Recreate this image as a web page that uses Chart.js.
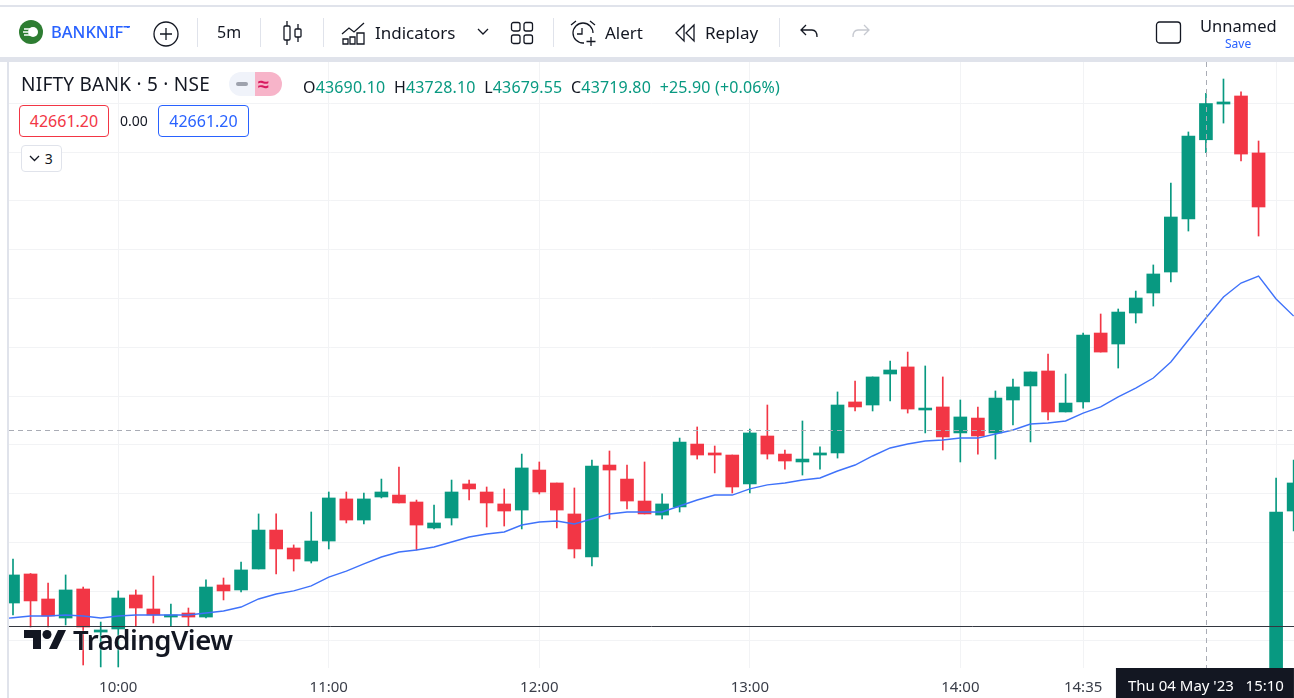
<!DOCTYPE html>
<html>
<head>
<meta charset="utf-8">
<title>NIFTY BANK</title>
<script src="https://cdn.jsdelivr.net/npm/chart.js@4/dist/chart.umd.min.js"></script>
<style>
  html, body { margin: 0; padding: 0; background: #fff; overflow: hidden; }
  body { width: 1294px; height: 698px; position: relative; font-family: "Noto Sans", sans-serif; color: #131722; }
  #chart { position: absolute; left: 0; top: 0; }
  .t { position: absolute; white-space: nowrap; line-height: 1; }
  .bar { position: absolute; background: #e0e3eb; }
  .sep { position: absolute; top: 18px; width: 1px; height: 29px; background: #e0e3eb; }
  .ic { position: absolute; fill: none; stroke: #131722; stroke-width: 1.3; }
  .g { color: #089981; }
  .box { position: absolute; box-sizing: border-box; border-radius: 4px; font-size: 16px; text-align: center; background: #fff; }
</style>
</head>
<body>
<canvas id="chart" width="1294" height="698"></canvas>

<div class="bar" style="left:0;top:5px;width:1294px;height:2px"></div>
<div class="bar" style="left:0;top:57px;width:1294px;height:5px"></div>
<div class="bar" style="left:7px;top:57px;width:2px;height:641px"></div>

<!-- top toolbar -->
<svg class="ic" style="left:19px;top:20px;stroke:none" width="24" height="24"><circle cx="12" cy="12" r="12" fill="#2e7d32"/><circle cx="14" cy="12" r="5" fill="#fff"/><path d="M5 9h6M4 12h5M5 15h6" stroke="#fff" stroke-width="1.5"/></svg>
<div class="t" style="left:51px;top:24px;font-size:16.500px;font-weight:500;color:#2962ff;width:79px;height:19px;overflow:hidden">BANKNIFTY</div>
<div class="bar" style="left:125px;top:28px;width:7px;height:16px;background:#fff"></div>
<svg class="ic" style="left:153px;top:21px" width="26" height="26"><circle cx="13" cy="13" r="12"/><path d="M13 7v12M7 13h12"/></svg>
<div class="sep" style="left:197px"></div>
<div class="t" style="left:217px;top:24px;font-size:16px">5m</div>
<div class="sep" style="left:260px"></div>
<svg class="ic" style="left:282px;top:20px" width="22" height="26"><rect x="2" y="6" width="6" height="14" rx="1"/><path d="M5 1v5M5 20v5"/><rect x="13" y="9" width="6" height="8" rx="1"/><path d="M16 4v5M16 17v5"/></svg>
<div class="sep" style="left:323px"></div>
<svg class="ic" style="left:341px;top:20px" width="26" height="26"><path d="M1 14l7-6 5 4 10-9"/><path d="M2 24v-5h5v5zM9 24v-7h5v7zM16 24v-11h7v11z"/></svg>
<div class="t" style="left:375px;top:24px;font-size:17px">Indicators</div>
<svg class="ic" style="left:477px;top:28px" width="12" height="8"><path d="M1 1l5 5 5-5"/></svg>
<svg class="ic" style="left:510px;top:21px" width="24" height="24"><rect x="1.5" y="1.5" width="8.5" height="8.5" rx="2"/><rect x="14" y="1.5" width="8.5" height="8.5" rx="2"/><rect x="1.5" y="14" width="8.5" height="8.5" rx="2"/><rect x="14" y="14" width="8.5" height="8.5" rx="2"/></svg>
<div class="sep" style="left:553px"></div>
<svg class="ic" style="left:570px;top:19px" width="28" height="28"><path d="M13 4a10 10 0 1 0 0 20h1"/><path d="M13 4a10 10 0 0 1 10 10"/><path d="M12 9v6h-5"/><path d="M1 6l5-4M20 2l5 4"/><path d="M21 18v9M16.5 22.5h9"/></svg>
<div class="t" style="left:605px;top:24px;font-size:17px">Alert</div>
<svg class="ic" style="left:674px;top:23px" width="22" height="20"><path d="M10 2l-8 8 8 8zM20 2l-8 8 8 8z"/></svg>
<div class="t" style="left:705px;top:24px;font-size:17px">Replay</div>
<div class="sep" style="left:779px"></div>
<svg class="ic" style="left:799px;top:23px" width="22" height="18"><path d="M7 2l-5 5 5 5M2 7h11c3 0 5 2 5 7"/></svg>
<svg class="ic" style="left:849px;top:23px;stroke:#c6c9d0" width="22" height="18"><path d="M15 2l5 5-5 5M20 7h-11c-3 0-5 2-5 7"/></svg>
<svg class="ic" style="left:1155px;top:20px" width="27" height="25"><rect x="1.5" y="2" width="24" height="21" rx="3"/></svg>
<div class="t" style="left:1200px;top:18px;font-size:16.500px">Unnamed</div>
<div class="t" style="left:1225px;top:38px;font-size:12px;color:#2962ff">Save</div>

<!-- legend -->
<div class="t" style="left:21px;top:75px;font-size:19px;letter-spacing:0.25px">NIFTY BANK · 5 · NSE</div>
<div class="bar" style="left:229px;top:72px;width:26px;height:24px;background:#f0f3fa;border-radius:12px 0 0 12px"></div>
<div class="bar" style="left:236px;top:82px;width:12px;height:4px;background:#9ea2ad;border-radius:2px"></div>
<div class="bar" style="left:255px;top:72px;width:27px;height:24px;background:#f7b4c9;border-radius:0 12px 12px 0"></div>
<div class="t" style="left:258px;top:74px;font-size:20px;font-weight:700;color:#d81b60">≈</div>
<div class="t" style="left:303px;top:79px;font-size:16px;letter-spacing:0.16px">O<span class="g">43690.10</span>&nbsp;&nbsp;H<span class="g">43728.10</span>&nbsp;&nbsp;L<span class="g">43679.55</span>&nbsp;&nbsp;C<span class="g">43719.80</span>&nbsp;&nbsp;<span class="g">+25.90 (+0.06%)</span></div>
<div class="box" style="left:19px;top:105px;width:90px;height:32px;border:1px solid #f23645;color:#f23645;line-height:30px">42661.20</div>
<div class="t" style="left:120px;top:114px;font-size:14px">0.00</div>
<div class="box" style="left:158px;top:105px;width:91px;height:32px;border:1px solid #2962ff;color:#2962ff;line-height:30px">42661.20</div>
<div class="box" style="left:21px;top:145px;width:41px;height:27px;border:1px solid #e0e3eb;line-height:25px;font-size:14px">&nbsp;&nbsp;&nbsp;&nbsp;3</div>
<svg class="ic" style="left:29px;top:155px" width="12" height="8"><path d="M1 1l4.500 4.500 4.500-4.500"/></svg>

<!-- watermark -->
<svg class="ic" style="left:24px;top:630px;stroke:none" width="42" height="21"><path d="M0 0h17v19h-8v-11h-9zM25 19l9-19h8l-9 19z" fill="#131722"/><circle cx="23" cy="4.500" r="4.500" fill="#131722"/></svg>
<div class="t" style="left:73px;top:626px;font-size:27.500px;font-weight:600;letter-spacing:-0.5px;text-shadow:0 0 2px #fff">TradingView</div>

<script>
const times = ['09:30','09:35','09:40','09:45','09:50','09:55','10:00','10:05','10:10','10:15','10:20','10:25',
  '10:30','10:35','10:40','10:45','10:50','10:55','11:00','11:05','11:10','11:15','11:20','11:25',
  '11:30','11:35','11:40','11:45','11:50','11:55','12:00','12:05','12:10','12:15','12:20','12:25',
  '12:30','12:35','12:40','12:45','12:50','12:55','13:00','13:05','13:10','13:15','13:20','13:25',
  '13:30','13:35','13:40','13:45','13:50','13:55','14:00','14:05','14:10','14:15','14:20','14:25',
  '14:30','14:35','14:40','14:45','14:50','14:55','15:00','15:05','15:10','15:15','15:20','15:25',
  '09:15','09:20'];

const open = [43310.4,43334.2,43313.7,43298.1,43321.9,43286.6,43289.1,43317.0,43305.5,43298.9,43302.2,43298.9,
  43325.2,43321.1,43338.3,43370.2,43355.5,43344.8,43361.2,43395.7,43378.4,43397.3,43398.9,43393.2,
  43371.9,43380.1,43408.0,43401.4,43391.6,43386.6,43419.4,43408.8,43383.4,43348.1,43423.5,43412.0,
  43394.0,43382.5,43389.1,43440.7,43433.4,43431.7,43408.0,43447.3,43432.5,43426.0,43431.7,43433.4,
  43475.2,43472.7,43498.1,43503.9,43468.6,43471.1,43449.8,43462.0,43449.8,43476.8,43488.3,43500.6,
  43467.0,43475.2,43531.7,43522.7,43548.1,43564.5,43581.7,43625.2,43690.1,43719.4,43726.0,43679.3,
  43150.0,43385.8];
const high = [43346.5,43334.6,43326.8,43333.4,43323.5,43294.8,43320.3,43321.1,43332.5,43309.6,43306.3,43329.3,
  43330.9,43344.0,43383.4,43383.4,43358.0,43385.0,43401.4,43401.4,43400.6,43412.0,43421.9,43394.8,
  43390.7,43411.2,43411.2,43405.5,43403.9,43432.5,43426.0,43408.8,43404.7,43427.6,43435.0,43423.5,
  43426.0,43399.8,43445.6,43454.7,43439.1,43431.7,43453.0,43472.7,43435.8,43459.6,43438.4,43483.4,
  43492.4,43495.7,43508.8,43516.1,43504.7,43495.7,43476.8,43471.1,43484.2,43494.0,43499.8,43514.5,
  43498.1,43531.7,43547.3,43551.4,43566.1,43587.5,43654.7,43696.5,43728.1,43739.9,43729.3,43689.1,
  43412.9,43427.6];
const low = [43300.6,43290.7,43290.7,43292.4,43259.6,43258.0,43258.0,43291.6,43294.0,43291.6,43291.6,43298.1,
  43312.9,43319.4,43338.3,43334.2,43336.6,43343.2,43354.7,43376.0,43375.2,43396.5,43392.4,43353.9,
  43371.1,43374.3,43394.8,43372.7,43373.5,43371.1,43399.8,43371.9,43347.3,43340.7,43379.3,43387.5,
  43383.4,43379.3,43385.0,43428.4,43417.0,43400.6,43400.6,43428.4,43420.2,43415.3,43420.2,43429.2,
  43467.8,43467.8,43476.0,43466.1,43449.8,43435.8,43426.0,43432.5,43428.4,43456.3,43442.4,43460.4,
  43467.0,43470.2,43516.1,43503.0,43539.9,43553.8,43573.5,43615.3,43679.55,43703.8,43672.7,43611.2,
  43140.0,43369.4];
const close = [43333.4,43312.1,43299.8,43321.1,43290.7,43288.3,43314.5,43306.3,43300.6,43300.6,43298.9,43323.5,
  43320.3,43337.5,43370.2,43354.7,43346.5,43361.2,43396.5,43378.4,43395.7,43401.4,43392.4,43374.3,
  43376.0,43401.4,43403.9,43392.4,43385.8,43421.1,43401.4,43386.6,43354.7,43422.7,43419.4,43394.0,
  43383.4,43391.6,43442.4,43431.7,43431.7,43405.5,43449.8,43432.5,43426.8,43428.4,43433.4,43472.7,
  43471.1,43495.7,43501.4,43469.4,43470.2,43446.5,43462.9,43447.3,43478.4,43487.5,43499.8,43467.0,
  43474.3,43530.1,43516.1,43548.9,43560.4,43580.1,43626.8,43693.2,43719.8,43721.1,43678.4,43635.0,
  43385.0,43408.8];

// moving average, first value is the bar before 09:30
const ma = [43296.9,43298.3,43299.8,43299.8,43300.6,43299.8,43298.1,43299.8,43300.6,43300.6,43300.6,43300.6,43302.2,
  43303.9,43307.1,43313.7,43317.8,43320.3,43324.4,43331.7,43336.6,43342.4,43348.1,43352.2,43353.9,
  43356.3,43360.4,43364.5,43367.0,43368.6,43374.3,43376.8,43377.6,43375.2,43379.3,43383.4,43385.0,
  43385.0,43385.0,43389.9,43394.8,43398.9,43398.9,43403.9,43407.2,43408.8,43411.2,43412.9,43418.6,
  43423.5,43430.9,43437.5,43440.7,43443.2,43444.0,43445.6,43445.6,43448.9,43452.2,43457.1,43458.0,
  43459.6,43466.1,43471.1,43479.3,43486.6,43494.8,43507.9,43526.0,43544.0,43561.2,43572.7,43578.4,
  43559.6,43545.6];

const priceTicks = [43720,43680,43640,43600,43560,43520,43480,43440,43400,43360,43320,43280];
const tickLabels = ['10:00','11:00','12:00','13:00','14:00','14:35'];
const gridTimes = ['10:00','11:00','12:00','13:00','14:00','14:35','09:15'];
const prevClose = 43291.5;
const crossPrice = 43452.2;
const crossTime = '15:10';
const crossLabel = "Thu 04 May '23   15:10";

const UP = '#089981', DOWN = '#f23645';
const colors = times.map((t, i) => close[i] >= open[i] ? UP : DOWN);

// crosshair, prev close line and the time tag
const overlay = {
  id: 'overlay',
  afterDatasetsDraw(chart) {
    const { ctx, chartArea: a, scales: { x, y } } = chart;
    const cx = x.getPixelForValue(times.indexOf(crossTime));
    ctx.save();
    ctx.lineWidth = 1;
    ctx.strokeStyle = '#333740';
    ctx.beginPath();
    ctx.moveTo(a.left, Math.round(y.getPixelForValue(prevClose)) + 0.5);
    ctx.lineTo(a.right, Math.round(y.getPixelForValue(prevClose)) + 0.5);
    ctx.stroke();
    ctx.strokeStyle = '#a9acb5';
    ctx.setLineDash([5, 4]);
    ctx.beginPath();
    ctx.moveTo(a.left, Math.round(y.getPixelForValue(crossPrice)) + 0.5);
    ctx.lineTo(a.right, Math.round(y.getPixelForValue(crossPrice)) + 0.5);
    ctx.moveTo(Math.round(cx) + 0.5, a.top);
    ctx.lineTo(Math.round(cx) + 0.5, a.bottom);
    ctx.stroke();
    ctx.setLineDash([]);
    ctx.fillStyle = '#131722';
    ctx.fillRect(cx - 90, a.bottom, 178, chart.height - a.bottom);
    ctx.fillStyle = '#fff';
    ctx.font = '15px "Noto Sans"';
    ctx.textAlign = 'center';
    ctx.textBaseline = 'middle';
    ctx.fillText(crossLabel, cx, a.bottom + 19);
    ctx.restore();
  }
};

new Chart(document.getElementById('chart'), {
  type: 'bar',
  plugins: [overlay],
  data: {
    datasets: [
      {
        type: 'line',
        data: ma.map((v, i) => ({ x: i - 1, y: v })),
        borderColor: '#3f72fa',
        borderWidth: 1.4,
        pointRadius: 0,
        tension: 0,
        order: 0
      },
      {
        data: times.map((t, i) => ({ x: i, y: [open[i], close[i]] })),
        backgroundColor: colors,
        borderWidth: 0,
        barThickness: 13,
        grouped: false,
        order: 1
      },
      {
        data: times.map((t, i) => ({ x: i, y: [low[i], high[i]] })),
        backgroundColor: colors,
        borderWidth: 0,
        barThickness: 1,
        grouped: false,
        order: 2
      }
    ]
  },
  options: {
    responsive: false,
    animation: false,
    layout: { padding: { left: 9, top: 62, right: 0, bottom: 0 } },
    plugins: { legend: { display: false }, tooltip: { enabled: false } },
    scales: {
      x: {
        type: 'linear',
        offset: false,
        min: -0.228,
        max: 73.02,
        border: { display: false },
        grid: { color: '#f2f3f5', offset: false, drawTicks: false },
        afterBuildTicks: s => { s.ticks = gridTimes.map(t => ({ value: times.indexOf(t) })); },
        afterFit: s => { s.height = 30; },
        ticks: {
          autoSkip: false,
          maxRotation: 0,
          padding: 11,
          color: '#3a3e49',
          font: { family: '"Noto Sans"', size: 15 },
          callback: v => tickLabels.includes(times[v]) ? times[v] : ''
        }
      },
      y: {
        min: 43257.13,
        max: 43753.85,
        border: { display: false },
        grid: { color: '#f2f3f5', drawTicks: false },
        afterBuildTicks: s => { s.ticks = priceTicks.map(v => ({ value: v })); },
        afterFit: s => { s.width = 0; },
        ticks: { display: false }
      }
    }
  }
});
</script>
</body>
</html>
